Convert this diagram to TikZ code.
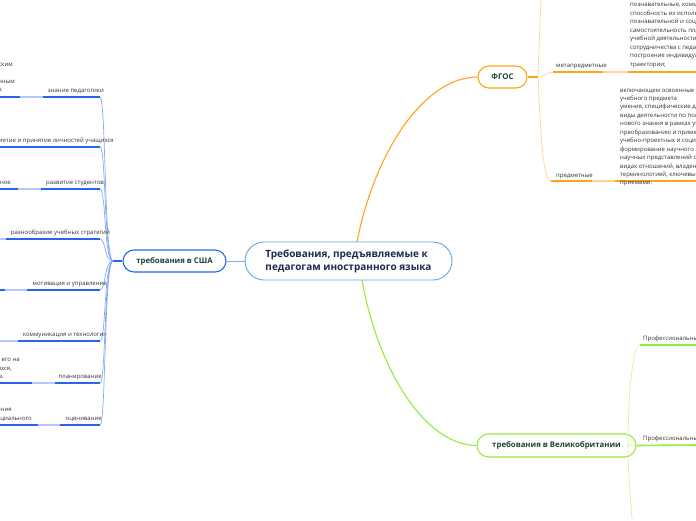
\documentclass[tikz,border=0pt]{standalone}
\usepackage{fontspec}
\setmainfont{Open Sans}
\definecolor{cblue}{HTML}{2B63EE}
\definecolor{cbluel}{HTML}{86A8F8}
\definecolor{cbluell}{HTML}{B3C8FB}
\definecolor{ccenter}{HTML}{5FA8E6}
\definecolor{navy}{HTML}{1C2A4E}
\definecolor{dgreen}{HTML}{1D4436}
\definecolor{corange}{HTML}{FFA31A}
\definecolor{corangel}{HTML}{FFD591}
\definecolor{cgreen}{HTML}{94EC3C}
\definecolor{cgreenl}{HTML}{CDF7A3}
\definecolor{txt}{HTML}{333333}
\begin{document}
\begin{tikzpicture}[x=1pt,y=-1pt,
  sm/.style={font=\fontsize{6}{7}\selectfont, text=txt, inner sep=0pt},
  topic/.style={draw, fill=white, inner sep=0pt, line width=1.1pt,
    font=\bfseries\fontsize{7.8}{9}\selectfont, text=dgreen},
  ulbar/.style={line width=1.6pt},
  conn/.style={line width=0.7pt},
]
\useasboundingbox (0,0) rectangle (696,520);

% ---------- main nodes
\node[draw=ccenter, fill=white, line width=0.9pt, rounded corners=19pt,
  minimum width=207pt, minimum height=38pt, inner sep=0pt, align=left,
  font=\bfseries\fontsize{10}{13}\selectfont, text=navy]
  (center) at (348.5,261) {Требования, предъявляемые к\\педагогам иностранного языка};
\node[topic, draw=cblue, rounded corners=11pt, minimum width=103pt, minimum height=22pt]
  (usa) at (174.5,261) {требования в США};
\node[topic, draw=corange, rounded corners=11pt, minimum width=49pt, minimum height=22pt]
  (fgos) at (502.5,77) {ФГОС};
\node[topic, draw=cgreen, rounded corners=11.5pt, minimum width=159pt, minimum height=23pt]
  (uk) at (556.5,445.5) {требования в Великобритании};

% ---------- main connectors
\coordinate (cN) at (357,242);
\coordinate (cS) at (362,280);
\draw[cbluel, line width=0.8pt] (center.west) -- (usa.east);
\draw[corange, line width=1.1pt] (cN) .. controls (375,150) and (425,77) .. (fgos.west);
\draw[cgreen, line width=1.1pt] (cS) .. controls (378,370) and (425,445) .. (uk.west);

% ---------- USA branch
\coordinate (uj) at (113,261);
\draw[cblue, line width=1.6pt] (usa.west) -- (uj);
\foreach \yy/\xr/\la/\lb/\lab [count=\i] in {
  97/104/20/43/{знание педагогики},
  147/114/0/0/{восприятие и принятие личностей учащихся},
  189/104/18/41/{развитие студентов},
  239/110/0/6/{разнообразие учебных стратегий},
  290/107/5/27/{мотивация и управление},
  341/107/0/18/{коммуникация и технология},
  383/102/32/55/{планирование},
  425/102/38/60/{оценивание}}{
  \coordinate (uc\i) at (100,\yy);
  \draw[cbluel, conn] (uj) .. controls (104,261) and (106,\yy) .. (uc\i);
  \draw[cblue, ulbar] (0,\yy) -- (\la,\yy);
  \draw[cbluell, ulbar] (\la,\yy) -- (\lb,\yy);
  \draw[cblue, ulbar] (\lb,\yy) -- (uc\i);
  \node[sm, anchor=base east] (ulab\i) at (\xr,\yy-5) {\lab};
}
% fragments of left text blocks (cut by the page edge)
\node[sm, anchor=base east] (f1) at (13,66) {педагогическим};
\node[sm, anchor=base east] (f2) at (15,83) {приобретённым};
\node[sm, anchor=base east] (f3) at (3,91) {знания.};
\node[sm, anchor=base east] (f4) at (11,184) {индивидуальное};
\node[sm, anchor=base east] (f5) at (20,361) {урока и его на};
\node[sm, anchor=base east] (f6) at (12,370) {учащихся,};
\node[sm, anchor=base east] (f7) at (4,378) {класса.};
\node[sm, anchor=base east] (f8) at (12,411) {обучения};
\node[sm, anchor=base east] (f9) at (32,420) {социального};

% ---------- FGOS branch
\coordinate (fj) at (538,77);
\coordinate (ftop) at (541,0);
\coordinate (fm) at (553,72);
\coordinate (fp) at (551,181);
\draw[corange, line width=1.2pt] (fgos.east) -- (fj);
\draw[corangel, conn] (fj) .. controls (539,50) and (540,20) .. (ftop);
\draw[corangel, conn] (fj) .. controls (545,77) and (546,72) .. (fm);
\draw[corangel, conn] (fj) .. controls (540,120) and (542,181) .. (fp);
\draw[corange, ulbar] (fm) -- (603,72);
\draw[corangel, ulbar] (603,72) -- (628,72);
\draw[corange, ulbar] (628,72) -- (696,72);
\draw[corange, ulbar] (fp) -- (592,181);
\draw[corangel, ulbar] (592,181) -- (615,181);
\draw[corange, ulbar] (615,181) -- (696,181);
\node[sm, anchor=base west] (meta) at (556,67) {метапредметные};
\node[sm, anchor=base west] (pred) at (556,177) {предметные};
\foreach \t [count=\i] in {
  {учебные действия (регулятивные,},
  {познавательные, коммуникативные),},
  {способность их использования в учебной,},
  {познавательной и социальной практике,},
  {самостоятельность планирования и осуществления},
  {учебной деятельности и организации учебного},
  {сотрудничества с педагогами и сверстниками,},
  {построение индивидуальной образовательной},
  {траектории;}}{
  \node[sm, anchor=base west] (mt\i) at (630,-2+8.5*\i-8.5) {\t};
}
\foreach \t [count=\i] in {
  {включающем освоенные обучающимися в ходе изучения},
  {учебного предмета},
  {умения, специфические для данной предметной области,},
  {виды деятельности по получению},
  {нового знания в рамках учебного предмета, его},
  {преобразованию и применению в учебных,},
  {учебно-проектных и социально-проектных ситуациях,},
  {формирование научного типа мышления,},
  {научных представлений о ключевых теориях, типах и},
  {видах отношений, владение научной},
  {терминологией, ключевыми понятиями, методами и},
  {приемами.}}{
  \node[sm, anchor=base west] (pt\i) at (620,92+8.45*\i-8.45) {\t};
}

% ---------- UK branch
\coordinate (gj) at (628,445);
\coordinate (gtop) at (640,345);
\coordinate (gbot) at (632,520);
\draw[cgreenl, conn] (gj) .. controls (628,400) and (632,345) .. (gtop);
\draw[cgreenl, conn] (gj) .. controls (628,480) and (631,500) .. (gbot);
\draw[cgreenl, conn] (gj) -- (uk.east);
\draw[cgreen, ulbar] (uk.east) -- (696,445);
\draw[cgreen, ulbar] (gtop) -- (696,345);
\node[sm, anchor=base west] (prof1) at (643,340) {Профессиональные стандарты};
\node[sm, anchor=base west] (prof2) at (643,440) {Профессиональные стандарты};
\end{tikzpicture}
\end{document}
